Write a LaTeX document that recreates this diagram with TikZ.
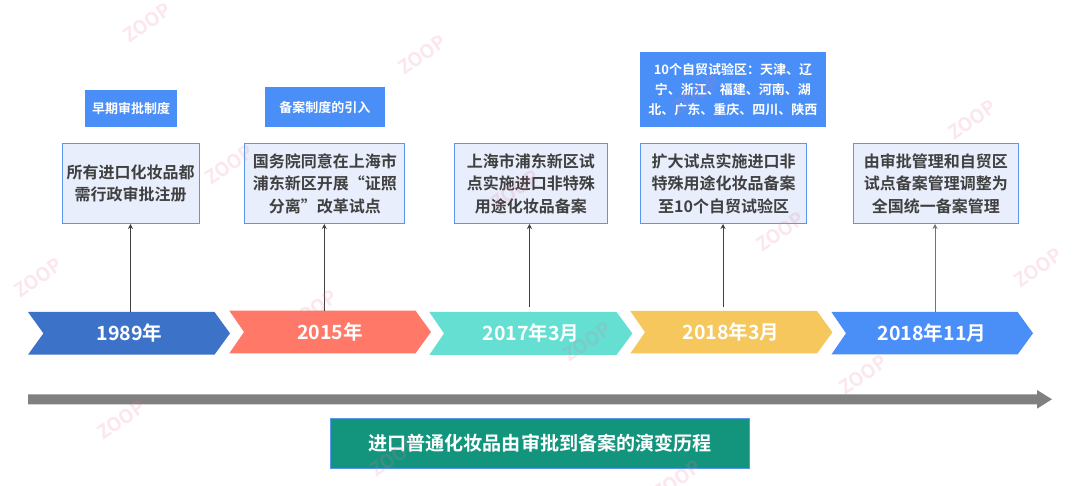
\documentclass[tikz,border=0pt]{standalone}
\usepackage{fontspec}
\setmainfont{Noto Sans CJK SC}[BoldFont={Noto Sans CJK SC Bold}]
\usetikzlibrary{arrows.meta}
\definecolor{boxfill}{HTML}{E8EEFB}
\definecolor{boxline}{HTML}{5B96EE}
\definecolor{labelblue}{HTML}{4A8EF8}
\definecolor{chevA}{HTML}{3D72C9}
\definecolor{chevB}{HTML}{FF7868}
\definecolor{chevC}{HTML}{64DFD2}
\definecolor{chevD}{HTML}{F5C75C}
\definecolor{chevE}{HTML}{4A8EF8}
\definecolor{titlegreen}{HTML}{13957D}
\definecolor{inktext}{HTML}{404040}
\definecolor{markpink}{HTML}{E8789A}
\tikzset{
 x=1pt,y=-1pt,
 stagebox/.style={draw=boxline,line width=1pt,fill=boxfill,text=inktext,font=\fontsize{16}{22.3}\selectfont\bfseries,align=center,inner sep=0pt,anchor=north west},
 tagbox/.style={fill=labelblue,text=white,font=\fontsize{13}{19.7}\selectfont\bfseries,align=center,inner sep=0pt,anchor=north west},
 yeartext/.style={text=white,font=\fontsize{19.6}{22}\selectfont\bfseries,inner sep=0pt},
 riser/.style={draw=#1,line width=0.8pt,-{Stealth[length=5pt,width=5pt]}},
 riser/.default={black!75},
 wmark/.style={text=markpink,text opacity=0.18,font=\fontsize{19}{19}\selectfont\bfseries,rotate=35,inner sep=0pt},
}
\newcommand{\sizedbox}[7]{\node[#1,minimum width=#4pt-#2pt,minimum height=#5pt-#3pt] (#6) at (#2,#3) {#7};}
\newcommand{\chevron}[8]{%
 % name, colour, x-left, x-notch, x-shoulder, x-tip, y-top, y-bottom
 \fill[#2] (#3,#7) -- (#5,#7) -- (#6,{(#7+#8)/2}) -- (#5,#8) -- (#3,#8) -- (#4,{(#7+#8)/2}) -- cycle;
 \coordinate (#1) at ({(#3+#6)/2},{(#7+#8)/2});
}
\begin{document}
\begin{tikzpicture}
\useasboundingbox (0,0) rectangle (1080,486);
% stage boxes
\sizedbox{stagebox}{61.7}{143.3}{198.7}{223}{s1}{所有进口化妆品都\\需行政审批注册}
\sizedbox{stagebox}{244.3}{143.3}{404.3}{223}{s2}{国务院同意在上海市\\浦东新区开展“证照\\分离”改革试点}
\sizedbox{stagebox}{454}{143.3}{606.5}{223}{s3}{上海市浦东新区试\\点实施进口非特殊\\用途化妆品备案}
\sizedbox{stagebox}{640.3}{143.3}{806}{223}{s4}{扩大试点实施进口非\\特殊用途化妆品备案\\至10个自贸试验区}
\sizedbox{stagebox}{852.5}{143.3}{1018}{223}{s5}{由审批管理和自贸区\\试点备案管理调整为\\全国统一备案管理}
% tag boxes
\sizedbox{tagbox}{84.7}{90}{177}{126.7}{t1}{早期审批制度}
\sizedbox{tagbox}{265}{87.3}{384.3}{126.7}{t2}{备案制度的引入}
\sizedbox{tagbox}{640}{52.3}{825.5}{126.7}{t3}{10个自贸试验区：天津、辽\\宁、浙江、福建、河南、湖\\北、广东、重庆、四川、陕西}
% chevrons
\chevron{c1}{chevA}{28}{43.4}{214.5}{230}{312}{354.7}
\chevron{c2}{chevB}{229.3}{244}{415.5}{431}{310.7}{353.3}
\chevron{c3}{chevC}{429.3}{444}{616.5}{632.4}{312}{355}
\chevron{c4}{chevD}{630.3}{645}{817}{832.4}{311}{353.5}
\chevron{c5}{chevE}{831.4}{846}{1017.6}{1033}{312}{354.5}
\node[yeartext] (y1) at (129.5,333.5) {1989年};
\node[yeartext] (y2) at (330,332) {2015年};
\node[yeartext] (y3) at (531,333.5) {2017年3月};
\node[yeartext] (y4) at (731,332.5) {2018年3月};
\node[yeartext] (y5) at (932,333.5) {2018年11月};
% risers
\coordinate (r1) at (130.5,312);
\coordinate (r2) at (324.3,311);
\coordinate (r3) at (529.5,306.7);
\coordinate (r4) at (723,306.7);
\coordinate (r5) at (935,312);
\draw[riser] (r1) -- (r1 |- s1.south);
\draw[riser] (r2) -- (r2 |- s2.south);
\draw[riser] (r3) -- (r3 |- s3.south);
\draw[riser] (r4) -- (r4 |- s4.south);
\draw[riser=black!55] (r5) -- (r5 |- s5.south);
% time axis
\coordinate (axisR) at (1052,399.3);
\fill[black!50] (28,394.3) -- (1037,394.3) -- (1037,390) -- (axisR) -- (1037,408.7) -- (1037,404.3) -- (28,404.3) -- cycle;
% title
\node[fill=titlegreen,draw=boxline,line width=1pt,text=white,font=\fontsize{19.1}{22}\selectfont\bfseries,inner sep=0pt,anchor=north west,minimum width=418.7pt,minimum height=49.4pt] (title) at (330.3,418.3) {进口普通化妆品由审批到备案的演变历程};
% faint marks
\foreach \mx/\my in {147/23,422/55,229/165,696/95,972/120,1038/268,780/232,38/278,313/310,587/342,863/375,121/420,394/457,677/480,515/190}{
 \node[wmark] at (\mx,\my) {ZOOP};
}
\end{tikzpicture}
\end{document}
